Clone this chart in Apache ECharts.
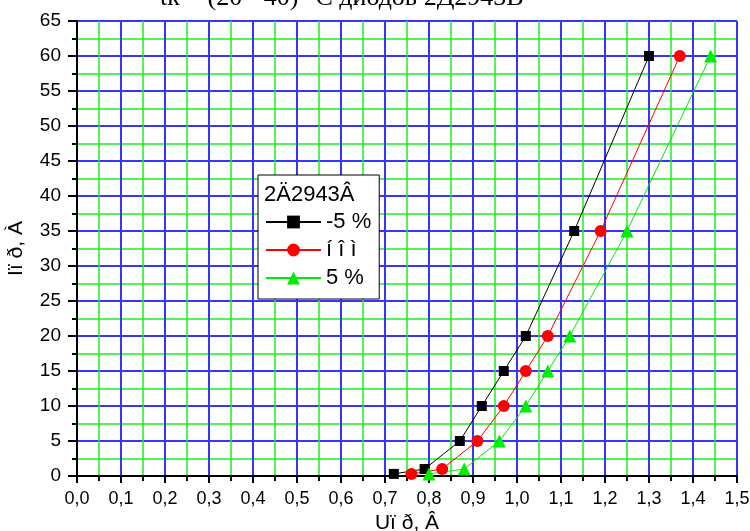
<!DOCTYPE html>
<html><head><meta charset="utf-8">
<script src="https://cdn.jsdelivr.net/npm/echarts@6/dist/echarts.min.js"></script>
<style>html,body{margin:0;padding:0;background:#fff}#c{width:750px;height:531px}</style>
</head><body><div id="c"></div>
<script>
const titleText = 'tк = (20 - 40) °С диодов 2Д2943В';
const legendTitle = '2Ä2943Â';
const seriesNames = ['-5 %', 'í î ì', '5 %'];
const xTicks = { min: 0, max: 1.5, interval: 0.1 };
const yTicks = { min: 0, max: 65, interval: 5 };
const current = [0.3, 1, 5, 10, 15, 20, 35, 60];
const voltMinus5 = [0.72, 0.79, 0.87, 0.92, 0.97, 1.02, 1.13, 1.30];
const voltNom = [0.76, 0.83, 0.91, 0.97, 1.02, 1.07, 1.19, 1.37];
const voltPlus5 = [0.80, 0.88, 0.96, 1.02, 1.07, 1.12, 1.25, 1.44];
const xName = 'Uï ð, Â';
const yName = 'Iï ð, À';

const pair = (xs) => xs.map((v, i) => [v, current[i]]);
const chart = echarts.init(document.getElementById('c'));
const font = 'Liberation Sans, Arial, sans-serif';
chart.setOption({
  animation: false,
  backgroundColor: '#fff',
  grid: { left: 77, right: 13, top: 21, bottom: 55, containLabel: false, outerBoundsMode: 'none' },
  xAxis: {
    type: 'value', min: xTicks.min, max: xTicks.max, interval: xTicks.interval,
    name: xName, nameLocation: 'middle', nameGap: 31,
    nameTextStyle: { fontFamily: font, fontSize: 21, color: '#000' },
    axisLine: { show: true, onZero: false, lineStyle: { color: '#000', width: 2 } },
    axisTick: { show: true, inside: false, length: 7, lineStyle: { color: '#000', width: 2 } },
    minorTick: { show: true, splitNumber: 2, length: 5, lineStyle: { color: '#000', width: 2 } },
    axisLabel: { fontFamily: font, fontSize: 18, color: '#000', margin: 14,
      formatter: v => v.toFixed(1).replace('.', ',') },
    splitLine: { show: true, lineStyle: { color: '#3535ff', width: 2 } },
    minorSplitLine: { show: true, lineStyle: { color: '#22ee22', width: 1.5 } }
  },
  yAxis: {
    type: 'value', min: yTicks.min, max: yTicks.max, interval: yTicks.interval,
    name: yName, nameLocation: 'middle', nameGap: 50, nameRotate: 90,
    nameTextStyle: { fontFamily: font, fontSize: 21, color: '#000' },
    axisLine: { show: true, onZero: false, lineStyle: { color: '#000', width: 2 } },
    axisTick: { show: true, inside: false, length: 9, lineStyle: { color: '#000', width: 2 } },
    minorTick: { show: true, splitNumber: 2, length: 5, lineStyle: { color: '#000', width: 2 } },
    axisLabel: { fontFamily: font, fontSize: 19, color: '#000', margin: 16 },
    splitLine: { show: true, lineStyle: { color: '#3535ff', width: 2 } },
    minorSplitLine: { show: true, lineStyle: { color: '#22ee22', width: 1.5 } }
  },
  legend: {
    orient: 'vertical', left: 258, top: 175,
    padding: [36, 8, 10, 7], itemGap: 6, itemWidth: 55, itemHeight: 16,
    backgroundColor: '#fff', borderColor: '#000', borderWidth: 1,
    textStyle: { fontFamily: font, fontSize: 22, color: '#000' },
    data: seriesNames
  },
  graphic: [
    { type: 'text', left: 264, top: 184, z: 100,
      style: { text: legendTitle, fontFamily: font, fontSize: 22, fill: '#000' } },
    { type: 'text', left: 160, top: -15,
      style: { text: titleText, fontFamily: 'Liberation Serif, Times New Roman, serif', fontSize: 26, fill: '#000' } }
  ],
  series: [
    { name: seriesNames[0], type: 'line', data: pair(voltMinus5), symbol: 'rect', symbolSize: 10,
      itemStyle: { color: '#000' }, lineStyle: { color: '#000', width: 1 } },
    { name: seriesNames[1], type: 'line', data: pair(voltNom), symbol: 'circle', symbolSize: 12,
      itemStyle: { color: '#ff0000' }, lineStyle: { color: '#ff0000', width: 1 } },
    { name: seriesNames[2], type: 'line', data: pair(voltPlus5), symbol: 'triangle', symbolSize: 13,
      itemStyle: { color: '#00ee00' }, lineStyle: { color: '#00ee00', width: 1 } }
  ]
});
</script></body></html>
